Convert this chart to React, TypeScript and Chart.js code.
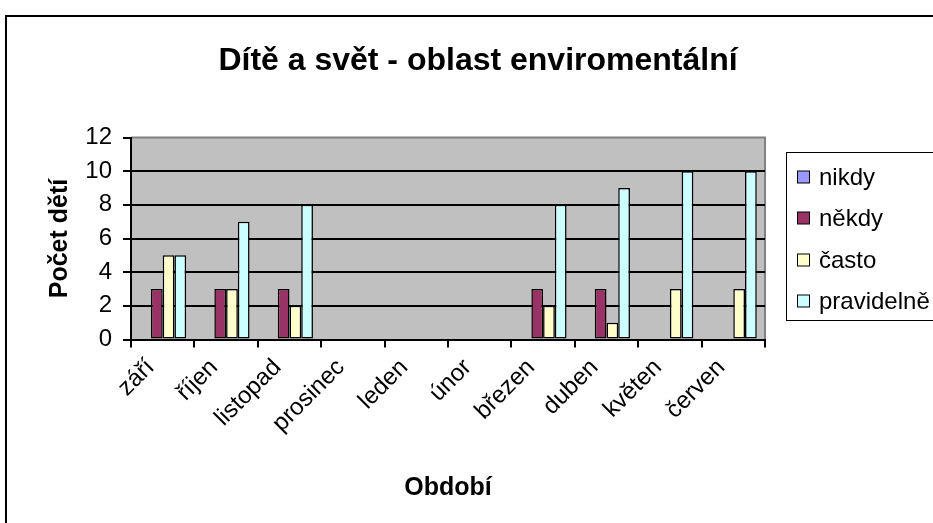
import { useEffect, useRef } from "react";
import { Chart, registerables } from "chart.js";

Chart.register(...registerables);

const categories = ["září", "říjen", "listopad", "prosinec", "leden", "únor", "březen", "duben", "květen", "červen"];
const nikdy = [0, 0, 0, 0, 0, 0, 0, 0, 0, 0];
const nekdy = [3, 3, 3, 0, 0, 0, 3, 3, 0, 0];
const casto = [5, 3, 2, 0, 0, 0, 2, 1, 3, 3];
const pravidelne = [5, 7, 8, 0, 0, 0, 8, 9, 10, 10];
const yTicks = [0, 2, 4, 6, 8, 10, 12];
const seriesNames = ["nikdy", "někdy", "často", "pravidelně"];
const seriesColors = ["#9999FF", "#993366", "#FFFFCC", "#CCFFFF"];
const chartTitle = "Dítě a svět - oblast enviromentální";
const xTitle = "Období";
const yTitle = "Počet dětí";

const FONT = "'Liberation Sans', Arial, sans-serif";

const decor = {
  id: "decor",
  beforeDraw(chart: any) {
    const { ctx, chartArea: a, width, height } = chart;
    ctx.save();
    ctx.fillStyle = "#ffffff";
    ctx.fillRect(0, 0, width, height);
    ctx.strokeStyle = "#000000";
    ctx.lineWidth = 2;
    ctx.beginPath();
    ctx.moveTo(6, height + 5);
    ctx.lineTo(6, 16);
    ctx.lineTo(width + 5, 16);
    ctx.stroke();
    ctx.fillStyle = "#C0C0C0";
    ctx.fillRect(a.left, a.top, a.right - a.left, a.bottom - a.top);
    ctx.strokeStyle = "#808080";
    ctx.lineWidth = 2;
    ctx.beginPath();
    ctx.moveTo(a.left, a.top);
    ctx.lineTo(a.right, a.top);
    ctx.lineTo(a.right, a.bottom);
    ctx.stroke();
    ctx.restore();
  },
  afterDraw(chart: any) {
    const { ctx } = chart;
    ctx.save();
    ctx.fillStyle = "#000000";
    ctx.font = `bold 32px ${FONT}`;
    ctx.textAlign = "center";
    ctx.textBaseline = "alphabetic";
    ctx.fillText(chartTitle, 478, 70);

    const lx = 786.5;
    const ly = 152.5;
    ctx.fillStyle = "#ffffff";
    ctx.fillRect(lx, ly, 220, 168);
    ctx.strokeStyle = "#000000";
    ctx.lineWidth = 1;
    ctx.strokeRect(lx, ly, 220, 168);
    ctx.font = `24px ${FONT}`;
    ctx.textAlign = "left";
    ctx.textBaseline = "middle";
    chart.data.datasets.forEach((ds: any, i: number) => {
      const cy = Math.round(177 + i * 41.3);
      ctx.fillStyle = ds.backgroundColor;
      ctx.fillRect(797.5, cy - 6, 12, 12);
      ctx.strokeStyle = "#000000";
      ctx.strokeRect(797.5, cy - 6, 12, 12);
      ctx.fillStyle = "#000000";
      ctx.fillText(ds.label, 819, cy + 1);
    });
    ctx.restore();
  },
};

export default function App() {
  const ref = useRef<HTMLCanvasElement | null>(null);

  useEffect(() => {
    if (!ref.current) return;
    const series = [nikdy, nekdy, casto, pravidelne];
    const chart = new Chart(ref.current, {
      type: "bar",
      data: {
        labels: categories,
        datasets: series.map((d, i) => ({
          label: seriesNames[i],
          data: d,
          backgroundColor: seriesColors[i],
          borderColor: "#000000",
          borderWidth: (c: any) => (c.raw === 0 ? 0 : 1.5),
          borderSkipped: false,
          categoryPercentage: 0.74,
          barPercentage: 1,
        })),
      },
      options: {
        responsive: false,
        animation: false,
        layout: { padding: { top: 137.5, right: 168, left: 0, bottom: 0 } },
        plugins: {
          legend: { display: false },
          title: { display: false },
          tooltip: { enabled: false },
        },
        scales: {
          x: {
            offset: true,
            grid: {
              offset: true,
              drawOnChartArea: false,
              drawTicks: true,
              tickLength: 8,
              color: "#000000",
              lineWidth: 2,
            },
            border: { display: true, color: "#000000", width: 2 },
            ticks: {
              color: "#000000",
              font: { family: FONT, size: 24 },
              minRotation: 45,
              maxRotation: 45,
              autoSkip: false,
              padding: 6,
              labelOffset: -12,
            },
            title: {
              display: true,
              text: xTitle,
              color: "#000000",
              font: { family: FONT, size: 25, weight: "bold" },
              padding: { top: 0, bottom: 20 },
            },
            afterFit: (s: any) => {
              s.height = 183.5;
            },
          },
          y: {
            min: 0,
            max: 12,
            afterBuildTicks: (s: any) => {
              s.ticks = yTicks.map((v) => ({ value: v }));
            },
            ticks: {
              color: "#000000",
              font: { family: FONT, size: 24 },
              padding: 11,
            },
            grid: {
              color: (c: any) => (c.tick && c.tick.value === 12 ? "rgba(0,0,0,0)" : "#000000"),
              tickColor: "#000000",
              lineWidth: 2,
              tickLength: 8,
            },
            border: { display: true, color: "#000000", width: 2 },
            title: {
              display: true,
              text: yTitle,
              color: "#000000",
              font: { family: FONT, size: 25, weight: "bold" },
              padding: { top: 45, bottom: 0 },
            },
            afterFit: (s: any) => {
              s.width = 131;
            },
          },
        },
      } as any,
      plugins: [decor],
    });
    return () => chart.destroy();
  }, []);

  return (
    <div style={{ position: "fixed", left: 0, top: 0, width: 933, height: 523 }}>
      <canvas ref={ref} width={933} height={523} style={{ display: "block" }} />
    </div>
  );
}
